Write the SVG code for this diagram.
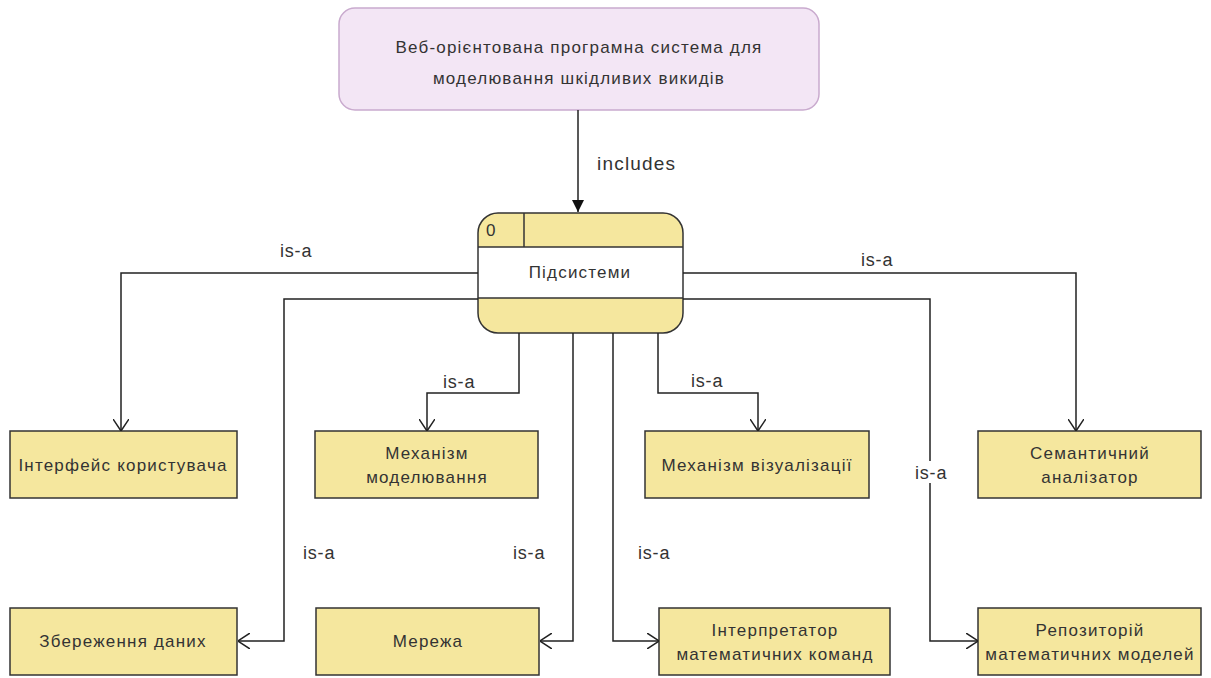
<svg xmlns="http://www.w3.org/2000/svg" width="1211" height="678" viewBox="0 0 1211 678">
<defs>
<style>
text{font-family:"Liberation Sans",Arial,sans-serif;fill:#333;font-size:17px;letter-spacing:1.2px}
.c{text-anchor:middle}
.box{fill:#f5e79e;stroke:#333;stroke-width:1.5}
.ln{fill:none;stroke:#222;stroke-width:1.5}
.lbl{font-size:18px;letter-spacing:0.8px}
.inc{font-size:19px;letter-spacing:1.2px}
</style>
<marker id="open" viewBox="0 0 12 16" refX="12" refY="8" markerWidth="12" markerHeight="16" markerUnits="userSpaceOnUse" orient="auto">
<path d="M0,0 L12,8 L0,16" fill="none" stroke="#222" stroke-width="1.5"/>
</marker>
<marker id="fill" viewBox="0 0 12 12" refX="12" refY="6" markerWidth="12" markerHeight="12" markerUnits="userSpaceOnUse" orient="auto">
<path d="M0,0 L12,6 L0,12 Z" fill="#111"/>
</marker>
</defs>
<rect width="1211" height="678" fill="#fff"/>

<g id="system">
<rect x="339" y="8" width="480" height="102" rx="16" fill="#f3e6f5" stroke="#c9aace" stroke-width="1.5"/>
<text class="c" x="579" y="53">Веб-орієнтована програмна система для</text>
<text class="c" x="579" y="84">моделювання шкідливих викидів</text>
</g>

<g id="subsystems">
<rect x="478" y="213" width="205" height="120" rx="20" fill="#f5e79e"/>
<rect x="478" y="247" width="205" height="51" fill="#fff"/>
<line x1="478" y1="247" x2="683" y2="247" stroke="#333" stroke-width="1.5"/>
<line x1="478" y1="298" x2="683" y2="298" stroke="#333" stroke-width="1.5"/>
<line x1="524" y1="213" x2="524" y2="247" stroke="#333" stroke-width="1.5"/>
<rect x="478" y="213" width="205" height="120" rx="20" fill="none" stroke="#333" stroke-width="1.5"/>
<text x="486" y="236">0</text>
<text class="c" x="580" y="278">Підсистеми</text>
</g>

<g id="n-interface"><rect class="box" x="10" y="431" width="227" height="67"/><text class="c" x="123" y="471">Інтерфейс користувача</text></g>
<g id="n-modeling"><rect class="box" x="315" y="431" width="223" height="67"/><text class="c" x="427" y="459">Механізм</text><text class="c" x="427" y="483">моделювання</text></g>
<g id="n-visual"><rect class="box" x="645" y="431" width="224" height="67"/><text class="c" x="757" y="471">Механізм візуалізації</text></g>
<g id="n-semantic"><rect class="box" x="978" y="431" width="223" height="67"/><text class="c" x="1090" y="459">Семантичний</text><text class="c" x="1090" y="483">аналізатор</text></g>
<g id="n-storage"><rect class="box" x="10" y="608" width="227" height="67"/><text class="c" x="123" y="647">Збереження даних</text></g>
<g id="n-network"><rect class="box" x="316" y="608" width="223" height="67"/><text class="c" x="428" y="647">Мережа</text></g>
<g id="n-interp"><rect class="box" x="659" y="608" width="231" height="67"/><text class="c" x="775" y="636">Інтерпретатор</text><text class="c" x="775" y="660">математичних команд</text></g>
<g id="n-repo"><rect class="box" x="978" y="608" width="223" height="67"/><text class="c" x="1090" y="636">Репозиторій</text><text class="c" x="1090" y="660">математичних моделей</text></g>

<g id="connectors">
<line class="ln" x1="578" y1="110" x2="578" y2="212" marker-end="url(#fill)"/>
<text class="inc" x="597" y="170">includes</text>
<polyline class="ln" points="478,273 121,273 121,431" marker-end="url(#open)"/>
<polyline class="ln" points="478,299 284,299 284,641 238,641" marker-end="url(#open)"/>
<polyline class="ln" points="519,333 519,393 427,393 427,431" marker-end="url(#open)"/>
<polyline class="ln" points="573,333 573,641 540,641" marker-end="url(#open)"/>
<polyline class="ln" points="613,333 613,641 659,641" marker-end="url(#open)"/>
<polyline class="ln" points="658,333 658,393 758,393 758,431" marker-end="url(#open)"/>
<polyline class="ln" points="683,273 1076,273 1076,431" marker-end="url(#open)"/>
<polyline class="ln" points="683,299 930,299 930,641 978,641" marker-end="url(#open)"/>
<text class="lbl" x="280" y="257">is-a</text>
<text class="lbl" x="861" y="266">is-a</text>
<text class="lbl" x="443" y="388">is-a</text>
<text class="lbl" x="691" y="387">is-a</text>
<text class="lbl" x="303" y="559">is-a</text>
<text class="lbl" x="513" y="559">is-a</text>
<text class="lbl" x="638" y="559">is-a</text>
<rect x="913" y="461" width="38" height="22" fill="#fff"/>
<text class="lbl" x="915" y="479">is-a</text>
</g>
</svg>
